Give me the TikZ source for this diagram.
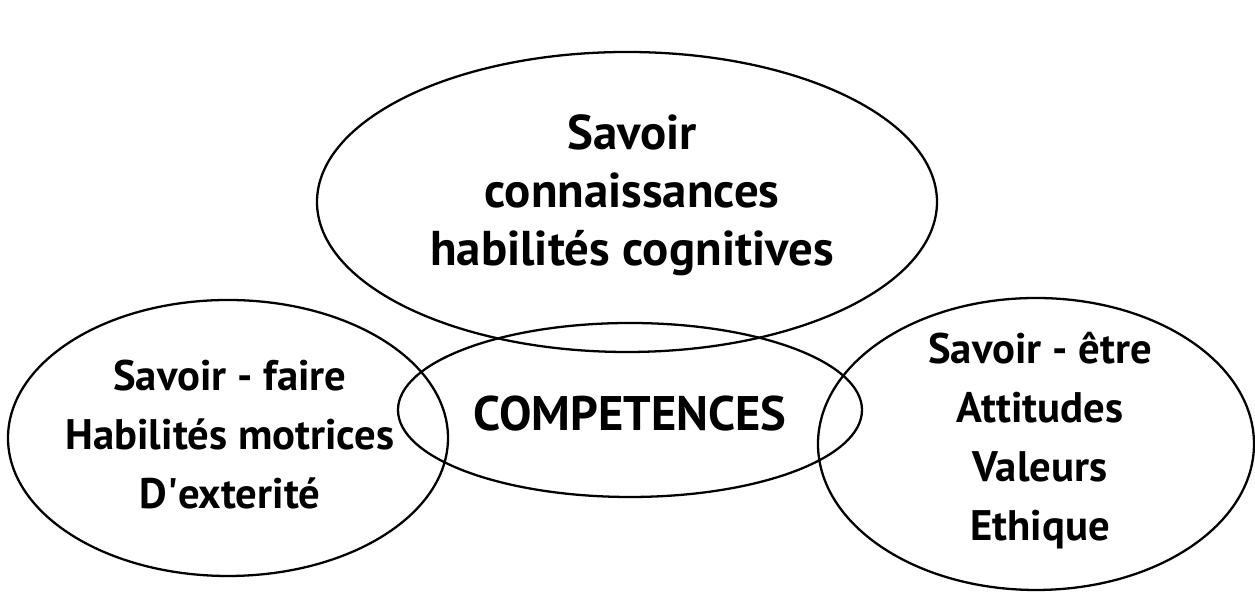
\documentclass[tikz,border=0pt]{standalone}
\usepackage{fontspec}
\setmainfont{PT Sans}
\usetikzlibrary{shapes.geometric}
\tikzset{
  bulle/.style={ellipse, draw, line width=1.3pt, inner sep=0pt},
  texte/.style={align=center, font=\fontsize{24.3}{33.6}\selectfont\bfseries}
}
\begin{document}
\begin{tikzpicture}
\useasboundingbox (0,0) rectangle (25.1,11.9);
%\small
\node[bulle, minimum width=12.4cm, minimum height=6cm] (savoir) at (12.54,7.86) {};
\node[bulle, minimum width=8.8cm, minimum height=5.52cm] (faire) at (4.56,3.14) {};
\node[bulle, minimum width=9.28cm, minimum height=3.48cm] (comp) at (12.6,3.70) {};
\node[bulle, minimum width=8.72cm, minimum height=5.84cm] (etre) at (20.72,3.02) {};
\node[texte, font=\fontsize{27.8}{33}\selectfont\bfseries] (tsavoir) at ([shift={(0.1,0.14)}]savoir)
  {Savoir\\connaissances\\habilités cognitives};
\node[texte] (tfaire) at ([shift={(0.04,0.06)}]faire)
  {Savoir - faire\\Habilités motrices\\D\textquotesingle exterité};
\node[texte, font=\fontsize{27.6}{33}\selectfont\bfseries] (tcomp) at ([yshift=-0.08cm]comp) {COMPETENCES};
\node[texte] (tetre) at ([shift={(0.08,0.06)}]etre)
  {Savoir - être\\Attitudes\\Valeurs\\Ethique};
\end{tikzpicture}
\end{document}
